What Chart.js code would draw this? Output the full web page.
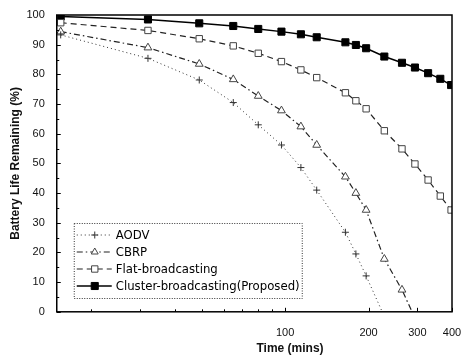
<!DOCTYPE html>
<html>
<head>
<meta charset="utf-8">
<script src="https://cdn.jsdelivr.net/npm/chart.js@4.4.1/dist/chart.umd.min.js"></script>
<style>
  html, body { margin: 0; padding: 0; background: #fff; }
  #wrap { width: 461px; height: 355px; position: relative; }
</style>
</head>
<body>
<div id="wrap"><canvas id="battChart"></canvas></div>
<script>
// time axis (mins)
const times = [15.5, 32, 49, 65, 80, 97, 114, 130, 165, 180, 196, 228, 264, 294, 328, 363, 397];
const aodvTimes = [15.5, 32, 49, 65, 80, 97, 114, 130, 165, 180, 196, 224];
const cbrpTimes = [15.5, 32, 49, 65, 80, 97, 114, 130, 165, 180, 196, 228, 264, 287];

// battery life remaining (%)
const aodv = [93.3, 85.4, 78.1, 70.5, 63, 56.2, 48.6, 41, 26.8, 19.5, 12.1, 0];
const cbrp = [94.4, 89, 83.5, 78.3, 72.7, 67.8, 62.4, 56.2, 45.5, 40, 34.3, 17.8, 7.4, 0];
const flat = [97.4, 94.8, 92, 89.6, 87.1, 84.3, 81.5, 78.9, 73.8, 71.1, 68.4, 61, 54.9, 49.8, 44.4, 39, 34.3];
const cluster = [99.5, 98.5, 97.2, 96.3, 95.3, 94.4, 93.5, 92.5, 90.8, 89.9, 88.8, 86, 83.9, 82.3, 80.4, 78.5, 76.4];

const seriesNames = ['AODV', 'CBRP', 'Flat-broadcasting', 'Cluster-broadcasting(Proposed)'];
const xLabels = [100, 200, 300, 400];

function toPoints(xs, ys) {
  return ys.map((v, i) => ({ x: xs[i], y: v }));
}
// last point of the two fast series is where the line hits 0, no marker there
function radii(n, r) {
  const a = new Array(n).fill(r);
  a[n - 1] = 0;
  return a;
}

const tickFont = { family: 'Liberation Sans', size: 11 };

// draws inward ticks, frame, legend box and x title
const decorPlugin = {
  id: 'decor',
  afterDraw(chart) {
    const ctx = chart.ctx;
    const a = chart.chartArea;
    const xs = chart.scales.x, ys = chart.scales.y;
    ctx.save();
    ctx.strokeStyle = '#000';
    ctx.lineWidth = 1.5;
    ctx.strokeRect(a.left, a.top, a.right - a.left, a.bottom - a.top);

    ctx.lineWidth = 1;
    for (let v = 0; v <= 100; v += 5) {
      const y = Math.round(ys.getPixelForValue(v)) + 0.5;
      const len = v % 10 === 0 ? 4 : 2.5;
      ctx.beginPath();
      ctx.moveTo(a.left, y); ctx.lineTo(a.left + len, y);
      ctx.stroke();
    }
    const xt = [20, 30, 40, 50, 60, 70, 80, 90, 100, 200, 300, 400];
    xt.forEach(v => {
      const x = Math.round(xs.getPixelForValue(v)) + 0.5;
      const len = xLabels.includes(v) ? 4 : 2.5;
      ctx.beginPath();
      ctx.moveTo(x, a.bottom); ctx.lineTo(x, a.bottom - len);
      ctx.stroke();
    });

    // x title
    ctx.fillStyle = '#111';
    ctx.font = 'bold 12px "Liberation Sans"';
    ctx.textAlign = 'center';
    ctx.textBaseline = 'middle';
    ctx.fillText('Time (mins)', 290, 349);

    // legend
    const bx = a.left + 17, by = a.top + 208, bw = 228, bh = 75;
    ctx.setLineDash([1, 1.5]);
    ctx.lineWidth = 1;
    ctx.strokeStyle = '#333';
    ctx.strokeRect(bx + 0.5, by + 0.5, bw, bh);
    ctx.setLineDash([]);
    ctx.font = '13px "DejaVu Sans Condensed"';
    ctx.textAlign = 'left';
    chart.data.datasets.forEach((ds, i) => {
      const y = by + 12 + i * 17;
      ctx.strokeStyle = ds.borderColor;
      ctx.lineWidth = ds.borderWidth;
      ctx.setLineDash(ds.borderDash || []);
      ctx.beginPath();
      ctx.moveTo(bx + 3, y); ctx.lineTo(bx + 38, y);
      ctx.stroke();
      ctx.setLineDash([]);
      ctx.fillStyle = ds.pointBackgroundColor;
      ctx.strokeStyle = ds.pointBorderColor;
      ctx.lineWidth = 1;
      Chart.helpers.drawPoint(ctx, {
        pointStyle: ds.pointStyle,
        radius: ds.legendRadius,
        borderWidth: 1,
        rotation: 0
      }, bx + 21, y);
      ctx.fillStyle = '#000';
      ctx.fillText(seriesNames[i], bx + 42, y + 1);
    });
    ctx.restore();
  }
};

new Chart(document.getElementById('battChart').getContext('2d'), {
  type: 'line',
  data: {
    datasets: [
      {
        label: seriesNames[0],
        data: toPoints(aodvTimes, aodv),
        borderColor: '#333', borderWidth: 1, borderDash: [1, 3],
        pointStyle: 'cross', pointRadius: radii(aodv.length, 3.5), legendRadius: 3.5,
        pointBorderColor: '#333', pointBackgroundColor: '#fff', pointBorderWidth: 1
      },
      {
        label: seriesNames[1],
        data: toPoints(cbrpTimes, cbrp),
        borderColor: '#222', borderWidth: 1.2, borderDash: [6, 3, 1.5, 3],
        pointStyle: 'triangle', pointRadius: radii(cbrp.length, 4.5), legendRadius: 4,
        pointBorderColor: '#444', pointBackgroundColor: '#fff', pointBorderWidth: 1
      },
      {
        label: seriesNames[2],
        data: toPoints(times, flat),
        borderColor: '#222', borderWidth: 1.2, borderDash: [6, 4],
        pointStyle: 'rect', pointRadius: 4.5, legendRadius: 4.5,
        pointBorderColor: '#444', pointBackgroundColor: '#fff', pointBorderWidth: 1
      },
      {
        label: seriesNames[3],
        data: toPoints(times, cluster),
        borderColor: '#000', borderWidth: 1.5,
        pointStyle: 'rect', pointRadius: 5, legendRadius: 5,
        pointBorderColor: '#000', pointBackgroundColor: '#000', pointBorderWidth: 1
      }
    ]
  },
  options: {
    responsive: true,
    maintainAspectRatio: false,
    animation: false,
    layout: { padding: { left: 8, right: 9, top: 15, bottom: 8 } },
    plugins: {
      legend: { display: false },
      tooltip: { enabled: false }
    },
    scales: {
      x: {
        type: 'logarithmic',
        min: 15,
        max: 400,
        grid: { display: false },
        border: { display: false },
        // let the "400" label run off the edge like the original
        afterFit: (scale) => { scale.paddingRight = 0; },
        ticks: {
          autoSkip: false,
          maxRotation: 0,
          color: '#111',
          font: tickFont,
          padding: 7,
          callback: (v) => xLabels.includes(v) ? String(v) : ''
        }
      },
      y: {
        min: 0,
        max: 100,
        grid: { display: false },
        border: { display: false },
        ticks: { stepSize: 10, color: '#111', font: tickFont, padding: 4 },
        title: {
          display: true,
          text: 'Battery Life Remaining (%)',
          color: '#111',
          font: { family: 'Liberation Sans', size: 12, weight: 'bold' },
          padding: { top: 0, bottom: 0 }
        }
      }
    }
  },
  plugins: [decorPlugin]
});
</script>
</body>
</html>
